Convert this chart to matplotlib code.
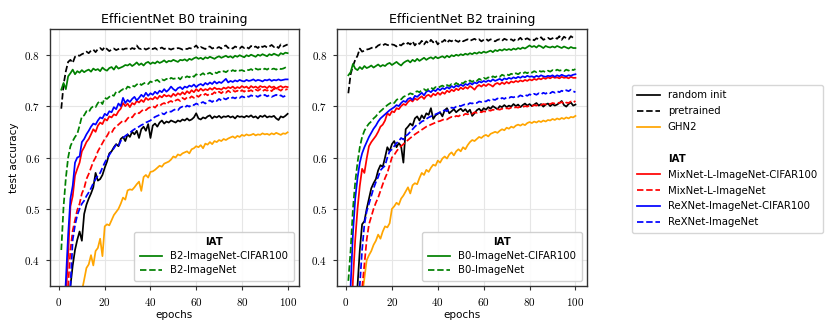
import numpy as np
import matplotlib
matplotlib.use("Agg")
import matplotlib.pyplot as plt
from matplotlib.lines import Line2D
from matplotlib.ticker import FuncFormatter

plt.rcParams['mathtext.fontset'] = 'cm'
plt.rcParams['font.family'] = ['DejaVu Sans']

epochs = list(range(1, 101))

# ---------------- EfficientNet B0 training (values in 1/1000) ----------------
b0_pretrained = [695,742,768,786,790,784,796,799,798,801, 803,806,803,808,810,805,811,813,809,815,
 811,807,810,812,809,811,813,810,812,812, 810,813,811,818,812,811,813,810,812,814,
 811,813,810,812,814,811,813,812,810,812, 811,813,812,810,812,811,813,812,814,818,
 812,815,813,811,815,816,812,814,813,815, 812,816,818,813,815,812,816,814,812,816,
 813,815,812,817,814,816,813,818,815,817, 814,816,819,815,817,813,820,816,818,820]
b0_iat_cifar = [732,745,733,758,764,771,762,768,765,770, 766,769,771,767,773,770,772,768,775,771,
 769,774,776,771,778,773,775,777,780,779, 782,778,781,785,780,783,779,784,786,782,
 785,783,787,784,786,789,785,788,787,790, 788,786,790,789,791,788,792,790,793,795,
 792,794,791,795,793,796,794,792,795,797, 794,796,798,795,797,794,798,796,799,797,
 795,799,797,800,798,796,800,798,801,799, 797,801,799,802,800,798,803,801,804,803]
b0_iat_imnet = [420,505,560,600,622,632,640,646,662,680, 682,690,688,696,700,698,706,710,704,716,
 714,718,722,720,728,726,730,733,731,738, 736,740,738,742,745,741,744,746,743,748,
 746,749,751,747,752,750,753,751,755,753, 754,756,752,757,755,758,756,760,757,762,
 759,761,764,760,763,765,762,766,764,767, 765,768,766,769,767,770,768,771,769,770,
 768,771,770,772,769,773,771,772,770,773, 771,774,772,773,771,774,772,773,775,772]
b0_rex_cifar = [200,280,360,450,520,545,590,600,602,630, 636,645,652,660,666,664,672,678,676,685,
 682,690,688,698,694,705,700,716,706,712, 708,714,718,711,716,722,718,726,720,725,
 722,728,724,730,727,733,728,732,738,733, 730,735,737,733,738,736,740,738,742,737,
 741,743,740,745,742,746,743,748,744,747, 745,749,753,746,749,747,750,748,751,749,
 748,751,749,750,752,749,751,750,748,751, 750,752,749,751,750,752,750,751,752,752]
b0_mix_cifar = [150,240,330,410,505,525,565,578,590,612, 620,630,636,645,655,650,662,668,665,675,
 672,680,678,684,682,690,695,706,700,705, 698,706,703,710,707,712,708,716,712,715,
 713,718,714,720,717,722,719,721,718,724, 720,725,722,727,723,729,725,731,727,733,
 729,734,730,733,731,735,732,736,733,734, 732,736,734,737,735,738,734,737,735,739,
 736,738,734,739,736,738,735,739,737,738, 735,739,736,738,734,737,739,736,738,737]
b0_mix_imnet = [100,180,260,350,420,458,478,498,510,530, 540,558,568,580,592,600,612,620,628,636,
 642,650,648,656,660,664,668,672,670,676, 680,678,684,688,686,690,694,692,696,698,
 700,697,702,700,704,706,703,708,710,707, 711,713,710,716,713,717,715,719,716,721,
 718,722,720,724,721,725,723,727,724,728, 725,729,726,730,727,731,728,730,727,731,
 728,732,729,731,728,732,730,733,729,732, 730,733,729,734,731,733,730,734,732,733]
b0_rex_imnet = [80,150,220,290,350,440,468,488,500,510, 516,525,532,540,550,558,565,570,580,590,
 598,605,612,618,625,622,632,638,642,645, 648,652,655,658,660,663,665,668,670,672,
 676,679,681,683,686,684,688,690,689,692, 694,692,697,699,697,701,699,703,702,705,
 703,706,708,705,709,711,708,712,710,714, 711,715,713,716,714,717,715,718,716,719,
 717,720,718,721,719,720,718,721,719,722, 719,721,718,720,722,719,721,718,720,718]
b0_random = [60,130,200,280,350,390,420,440,456,438, 490,508,520,530,542,570,555,558,566,580,
 592,608,612,620,626,622,636,640,632,645, 640,650,645,652,638,655,660,652,665,638,
 662,666,660,668,672,666,670,668,672,670, 668,672,670,674,672,676,672,674,678,686,
 676,674,678,676,680,682,676,680,678,681, 677,680,679,681,678,680,676,681,679,680,
 678,681,679,682,678,680,676,681,679,682, 678,680,679,681,676,673,680,678,681,685]
b0_ghn2 = [30,60,100,140,180,210,240,270,300,340, 362,385,392,410,390,418,424,442,408,466,
 470,468,478,488,494,500,510,522,518,536, 538,537,542,548,553,535,562,566,561,572,
 573,576,580,584,582,588,590,592,596,602, 600,606,604,608,610,612,608,616,618,622,
 620,624,618,627,625,630,626,632,630,634, 632,636,634,637,639,641,638,642,640,644,
 642,645,643,644,646,643,645,644,647,645, 646,644,647,645,648,646,644,647,646,649]

# ---------------- EfficientNet B2 training (values in 1/1000) ----------------
b2_pretrained = [725,762,778,790,798,812,806,808,810,811, 813,815,814,818,820,818,821,819,818,820,
 819,816,820,818,822,819,823,820,826,818, 824,821,827,820,826,822,829,824,828,820,
 826,825,829,823,828,826,830,827,825,829, 826,828,830,827,829,831,828,830,826,829,
 831,827,830,828,826,829,830,827,831,829, 828,830,827,831,829,833,828,830,832,829,
 831,828,832,830,834,829,831,833,830,832, 834,831,836,829,835,832,830,836,833,835]
b2_iat_cifar = [760,766,782,773,770,776,772,778,774,776, 779,775,778,781,777,780,778,782,784,780,
 783,786,782,779,784,787,789,785,790,787, 792,788,791,794,790,793,795,792,796,793,
 795,797,794,798,795,799,797,800,798,801, 799,802,800,803,801,804,802,805,803,806,
 804,806,808,805,809,807,810,808,811,809, 811,809,812,810,813,811,814,812,815,818,
 815,817,814,818,816,813,817,815,814,816, 814,817,815,813,816,814,812,815,813,813]
b2_iat_imnet = [360,420,500,552,590,620,640,652,660,666, 670,676,680,686,690,694,698,702,705,708,
 706,712,715,713,718,720,722,725,723,727, 729,727,731,733,730,734,736,733,737,735,
 738,740,737,741,739,743,741,745,742,746, 744,748,746,750,747,751,749,753,751,755,
 753,756,754,758,756,759,757,761,759,762, 760,763,761,764,762,765,763,766,764,767,
 765,768,766,769,767,768,766,769,767,770, 768,771,769,770,768,771,769,772,770,772]
b2_rex_cifar = [200,350,452,520,560,590,608,620,630,640, 648,656,662,670,676,680,684,688,692,695,
 698,702,700,706,710,708,714,716,712,720, 718,722,726,721,728,730,727,732,729,734,
 731,735,733,737,734,739,736,740,738,742, 739,743,741,745,742,746,744,748,746,749,
 747,750,748,752,749,751,753,750,754,752, 755,753,756,754,757,755,758,756,759,757,
 758,756,759,757,760,758,757,759,758,760, 757,760,758,761,759,758,760,759,761,762]
b2_mix_cifar = [120,240,360,440,500,545,578,570,598,622, 630,636,642,650,660,664,672,686,682,690,
 688,696,694,700,704,702,708,712,709,715, 712,716,719,714,720,722,718,724,721,726,
 722,727,724,730,727,732,729,734,731,736, 733,737,734,739,736,732,738,741,738,742,
 739,743,741,738,743,745,742,746,743,747, 744,748,746,749,747,750,748,751,749,752,
 750,753,751,754,752,755,753,756,754,757, 755,756,754,757,755,756,754,757,755,755]
b2_mix_imnet = [40,100,160,220,270,310,345,392,440,470, 485,500,512,522,535,548,560,570,585,600,
 605,612,618,622,626,630,634,638,641,645, 648,651,654,657,660,662,664,666,668,670,
 671,673,675,674,677,679,678,681,680,683, 682,685,684,686,685,688,687,689,688,690,
 689,692,691,693,692,694,693,695,694,696, 695,697,696,698,697,699,698,700,699,701,
 700,702,701,703,702,704,703,705,704,706, 705,707,706,708,704,707,706,709,707,710]
b2_rex_imnet = [60,140,220,280,320,352,420,470,495,510, 525,540,552,562,575,580,584,600,612,616,
 622,628,632,638,635,642,645,650,655,660, 664,666,670,672,675,678,680,682,684,686,
 688,690,692,690,695,697,696,699,701,700, 702,704,703,706,705,707,706,709,708,710,
 709,712,710,713,712,715,713,716,714,717, 716,718,717,719,718,721,719,722,720,723,
 721,724,722,725,723,726,724,727,725,728, 726,729,727,730,728,731,729,732,729,727]
b2_random = [60,130,200,270,350,420,470,476,500,520, 540,550,558,575,585,582,600,620,612,626,
 632,620,628,622,590,655,660,666,662,676, 680,672,682,676,686,683,696,675,682,685,
 688,680,692,696,686,690,694,688,692,695, 690,694,688,693,681,686,692,695,690,696,
 693,698,695,700,697,694,700,698,702,698, 701,699,704,700,703,698,702,705,701,704,
 700,703,706,701,704,699,703,705,700,704, 701,703,706,710,702,699,704,707,701,703]
b2_ghn2 = [20,60,110,160,210,260,330,365,400,410, 418,430,438,450,442,456,466,464,472,500,
 505,512,508,520,526,534,542,530,546,550, 548,560,570,566,576,572,580,586,584,594,
 590,598,602,598,606,610,604,612,616,612, 620,616,624,630,634,632,636,640,638,642,
 644,641,646,648,650,648,652,655,653,658, 656,660,658,662,664,662,665,663,667,669,
 667,670,668,671,669,672,670,673,672,675, 673,676,674,677,675,678,676,679,678,681]

titles = ["EfficientNet B0 training", "EfficientNet B2 training"]
inner_labels = [["B2-ImageNet-CIFAR100", "B2-ImageNet"],
                ["B0-ImageNet-CIFAR100", "B0-ImageNet"]]
panels = [
    dict(random=b0_random, pretrained=b0_pretrained, ghn2=b0_ghn2,
         mix_c=b0_mix_cifar, mix_i=b0_mix_imnet, rex_c=b0_rex_cifar, rex_i=b0_rex_imnet,
         eff_c=b0_iat_cifar, eff_i=b0_iat_imnet),
    dict(random=b2_random, pretrained=b2_pretrained, ghn2=b2_ghn2,
         mix_c=b2_mix_cifar, mix_i=b2_mix_imnet, rex_c=b2_rex_cifar, rex_i=b2_rex_imnet,
         eff_c=b2_iat_cifar, eff_i=b2_iat_imnet),
]

fig = plt.figure(figsize=(8.3, 3.32), dpi=100)
axes = [fig.add_axes([0.0602, 0.1386, 0.300, 0.774]),
        fig.add_axes([0.4060, 0.1386, 0.301, 0.774])]

lw = 1.25
fs = 7.3
x = np.array(epochs)
fmt = FuncFormatter(lambda v, p: r"$%g$" % round(v, 2))
for i, (ax, d) in enumerate(zip(axes, panels)):
    f = lambda s: np.array(s) / 1000.0
    h_rand, = ax.plot(x, f(d['random']), color='black', lw=lw, label='random init')
    h_pre, = ax.plot(x, f(d['pretrained']), color='black', ls='--', lw=lw, label='pretrained')
    h_ghn, = ax.plot(x, f(d['ghn2']), color='orange', lw=lw, label='GHN2')
    h_mc, = ax.plot(x, f(d['mix_c']), color='red', lw=lw, label='MixNet-L-ImageNet-CIFAR100')
    h_mi, = ax.plot(x, f(d['mix_i']), color='red', ls='--', lw=lw, label='MixNet-L-ImageNet')
    h_rc, = ax.plot(x, f(d['rex_c']), color='blue', lw=lw, label='ReXNet-ImageNet-CIFAR100')
    h_ri, = ax.plot(x, f(d['rex_i']), color='blue', ls='--', lw=lw, label='ReXNet-ImageNet')
    h_ec, = ax.plot(x, f(d['eff_c']), color='green', lw=lw, label=inner_labels[i][0])
    h_ei, = ax.plot(x, f(d['eff_i']), color='green', ls='--', lw=lw, label=inner_labels[i][1])
    ax.set_ylim(0.35, 0.85)
    ax.set_xticks([0, 20, 40, 60, 80, 100])
    ax.set_yticks([0.4, 0.5, 0.6, 0.7, 0.8])
    ax.xaxis.set_major_formatter(FuncFormatter(lambda v, p: r"$%d$" % v))
    ax.yaxis.set_major_formatter(fmt)
    ax.tick_params(labelsize=8, length=3, width=0.8, color='#333333', pad=4)
    ax.grid(True, color='#e6e6e6', lw=0.8)
    ax.set_axisbelow(True)
    for s in ax.spines.values():
        s.set_color('#333333')
        s.set_linewidth(1.0)
    ax.set_title(titles[i], fontsize=9, pad=4)
    ax.set_xlabel('epochs', fontsize=7.5, labelpad=2)
    if i == 0:
        ax.set_ylabel('test accuracy', fontsize=7.5, labelpad=4)
    leg = ax.legend(handles=[h_ec, h_ei], loc='lower right', fontsize=fs,
                    title='IAT', title_fontproperties={'weight': 'bold', 'size': fs},
                    handlelength=2.2, borderpad=0.55, labelspacing=0.4, framealpha=0.9,
                    edgecolor='#cccccc', fancybox=True)
    if i == 0:
        main = [h_rand, h_pre, h_ghn, h_mc, h_mi, h_rc, h_ri]

blank = Line2D([], [], color='none')
handles = main[:3] + [blank, blank] + main[3:]
labels = ['random init', 'pretrained', 'GHN2', ' ', 'IAT',
          'MixNet-L-ImageNet-CIFAR100', 'MixNet-L-ImageNet',
          'ReXNet-ImageNet-CIFAR100', 'ReXNet-ImageNet']
fleg = fig.legend(handles, labels, loc='upper left', bbox_to_anchor=(0.755, 0.76),
                  fontsize=fs, handlelength=2.2, borderpad=0.55, labelspacing=0.58,
                  edgecolor='#cccccc', fancybox=True)
fleg.get_texts()[4].set_fontweight('bold')

fig.savefig('out.png', dpi=100)
